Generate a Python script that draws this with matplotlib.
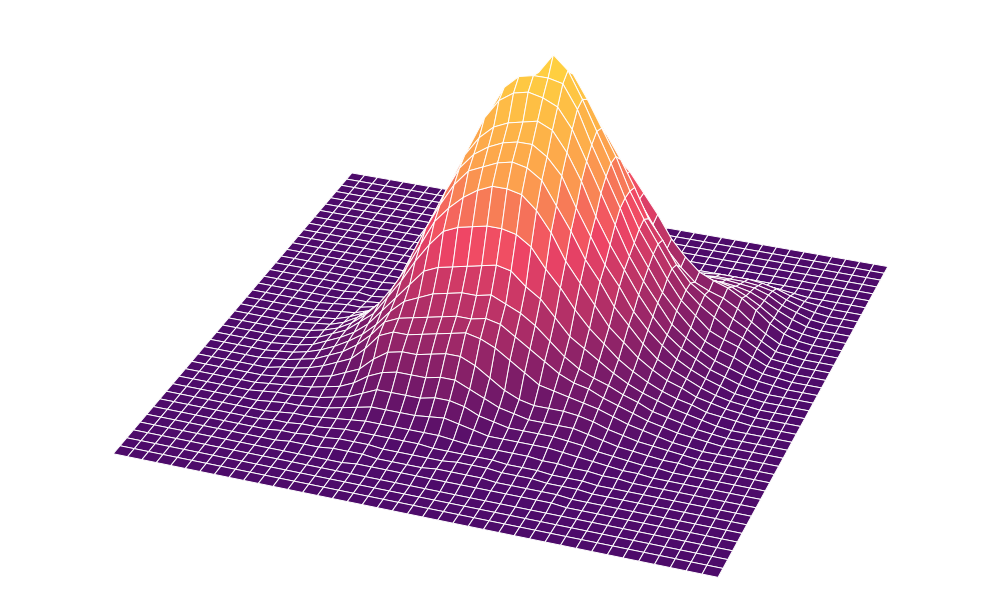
import numpy as np
import matplotlib
matplotlib.use('Agg')
import matplotlib.pyplot as plt
from matplotlib.colors import LinearSegmentedColormap

# heights, rows j=4..34, columns i=5..38 (rest of the plane is flat)
hill = [
[0,0,0,0,0,0,0,0,0,0,.5,.5,.5,.5,.5,.5,.5,.5,.5,.5,.5,.5,.5,.5,0,0,0,0,0,0,0,0,0,0],
[0,0,0,0,0,.5,.5,.5,1,1,1,.5,.5,.5,.5,1,1,1,1,.5,.5,.5,.5,.5,0,0,0,0,0,0,0,0,0,0],
[0,0,0,0,.5,.5,1,1,1.5,1.5,1.5,1,1,1,1,1,1.5,1.5,1.5,1,1,1,.5,.5,.5,0,0,0,0,0,0,0,0,0],
[0,0,0,.5,.5,1,1,1.5,2,2,2,2,2,2,1.5,1.5,1.5,1.5,1.5,1,1,1,.5,.5,.5,0,0,0,0,0,0,0,0,0],
[0,0,0,.5,1,1,1.5,2,2.5,3,3,3,3,3,3,2.5,2,2,2,2,2,1.5,1.5,1,1,.5,.5,0,0,0,0,0,0,0],
[0,0,.5,1,1,1.5,2,3,4,5,5,5,5,5.5,6,5,4,3,3,3,3,3,2.5,2,1.5,1,.5,.5,0,0,0,0,0,0],
[0,.5,1,1,1.5,2,3,4,6,8,8,8,8,9,9,8,6,5,4,4,4,4,3.5,3,2,1.5,1,.5,.5,0,0,0,0,0],
[0,.5,1,1.5,2,3,4,6,9,11,12,12,12,13,13,11,9,7,6,5,5,5,5,4,3,2,1.5,1,.5,.5,0,0,0,0],
[0,.5,1,2,3,4,6,8,12,15,16,16,17,18,18,16,13,10,8,7,7,7,6.5,5.5,4,3,2,1.5,1,.5,0,0,0,0],
[0,1,1.5,2.5,4,6,8,12,17,19,19,20,21,22,23,22,20,17,14,11,10,9,8,7,5.5,4,3,2,1,.5,0,0,0,0],
[.5,1,2,3,5,7,10,14,19,21,22,23,24,25,25,26,25,22,19,16,13,11,10,8,6.5,5,3.5,2.5,1.5,1,.5,0,0,0],
[.5,1,2,3.5,5.5,8,11,15,20,24,26,28,29,30,30,31,29,27,24,20,16,13,11,9.5,7.5,6,4,3,2,1,.5,0,0,0],
[.5,1,2,4,6,8.5,12,17,22,27,32,34,35,36,37,38,37,33,30,25,20,17,14,11,8.5,6.5,5,3.5,2.5,1.5,.5,0,0,0],
[.5,1,2,4,6,9.5,13,19,25,32,38,43,45,46,47,47,46,43,37,32,26,21,17,13,10,7.5,5.5,4,3,1.5,1,.5,0,0],
[.5,1,2,3.5,6,9.5,14,20,27,35,43,48,52,55,57,57,56,52,46,38,32,26,20,16,12,9,6.5,5,3,2,1,.5,0,0],
[.5,1,1.5,3,5.5,8.5,13,20,29,38,46,53,58,60,62,63,62,59,52,45,37,31,24,19,14,10,7.5,5.5,3.5,2,1,.5,0,0],
[0,.5,1,2.5,4.5,7,11,19,28,39,48,56,61,64,66,67,67,64,59,50,42,34,28,21,16,12,8.5,6,4,2.5,1,.5,0,0],
[0,.5,1,1.5,3,5,9,16,26,38,49,58,64,68,70,71,72,70,64,56,46,38,31,24,18,13,9.5,7,4.5,3,1.5,.5,0,0],
[0,.5,1,1,2,3.5,7,13,23,36,49,59,68,74,77,78,77,75,69,60,51,42,33,26,20,14,10.5,7.5,5,3.5,2,1,.5,0],
[0,0,.5,.5,1,2.5,5,11,20,33,47,58,68,76,80,81,81,80,73,63,54,45,35,28,21,16,11.5,8,6,4.5,2.5,1,.5,0],
[0,0,.5,0,.5,1.5,4,9,17,29,43,54,65,73,77,80,86,82,74,65,56,46,37,30,23,17,13,9,7,5.5,3,1,.5,0],
[0,0,0,0,.5,1,2.5,7,13,24,37,48,58,65,71,76,80,79,72,64,56,46,38,31,24,18,14,11,8,6,3.5,1,.5,0],
[0,0,0,0,.5,1,2,5,11,20,31,42,51,59,65,71,74,72,67,60,53,45,36,30,23,18,15,12,9,6.5,3.5,1,.5,0],
[0,0,0,0,0,.5,1.5,3.5,8,15,25,34,43,50,57,61,64,63,60,54,46,39,32,25,20,16,14,12.5,10,6.5,3.5,1,.5,0],
[0,0,0,0,0,0,.5,1.5,3,7,12,19,26,34,42,47,51,53,52,49,45,39,33,26,21,17,15,13.5,11,8,4.5,2,.5,0],
[0,0,0,0,0,0,0,.5,2,4,8,13,19,25,32,36,39,40,39,36,33,28,23,18,15,13,12.5,11.5,9.5,7,4,1.5,.5,0],
[0,0,0,0,0,0,0,.5,1,2.5,5,8.5,12,17,21,25,27,27,26,24,21,18,15,12,11,10,10,9.5,8.5,6.5,4,2,.5,0],
[0,0,0,0,0,0,0,0,.5,1,2,3,5,8,11,14,16,17,17,16,14,12,10,9,8.5,8.5,8.5,8,7.5,6,3.5,2,.5,0],
[0,0,0,0,0,0,0,0,0,0,.5,1,1.5,2.5,4,5,6,7,7,7,6,5.5,5.5,5.5,6,6.5,6.5,6.5,6,5,3,1.5,.5,0],
[0,0,0,0,0,0,0,0,0,0,0,0,0,.5,1,1,1.5,2,2.5,3,3,3.5,4,4,4.5,5,5,5,4.5,3.5,2,1,.5,0],
[0,0,0,0,0,0,0,0,0,0,0,0,0,0,0,0,0,.5,.5,.5,1,1,1.5,1.5,1.5,1.5,1.5,1.5,1.5,1,.5,0,0,0],
]
first_row, first_col = 4, 5
n_cells = 40
cmap_colors = ['#4d0b6a', '#ef4565', '#fc9f4e', '#ffd23f']
cmap_stops = [0.0, 0.48, 0.70, 1.0]

z = np.zeros((n_cells + 1, n_cells + 1))
z[first_row:first_row + len(hill), first_col:first_col + len(hill[0])] = hill
x, y = np.meshgrid(np.arange(n_cells + 1), np.arange(n_cells + 1))

cmap = LinearSegmentedColormap.from_list('hill', list(zip(cmap_stops, cmap_colors)))
fig = plt.figure(figsize=(10, 6), dpi=100)
ax = fig.add_axes([0.0095, 0.157, 1, 1], projection='3d')
ax.set_xlim(0, n_cells)
ax.set_ylim(0, n_cells)
ax.set_zlim(0, 100)
ax.view_init(28.72, -70.07)
ax.set_proj_type('persp', focal_length=1.103)
ax.set_box_aspect((1.004, 1, 0.6), zoom=1.5356)
surf = ax.plot_surface(x, y, z, cmap=cmap, vmin=0, vmax=84, rstride=1, cstride=1,
                       edgecolor='white', linewidth=0.7, shade=False)
surf.set_clip_on(False)
ax.set_axis_off()
fig.savefig('out.png', dpi=100)
